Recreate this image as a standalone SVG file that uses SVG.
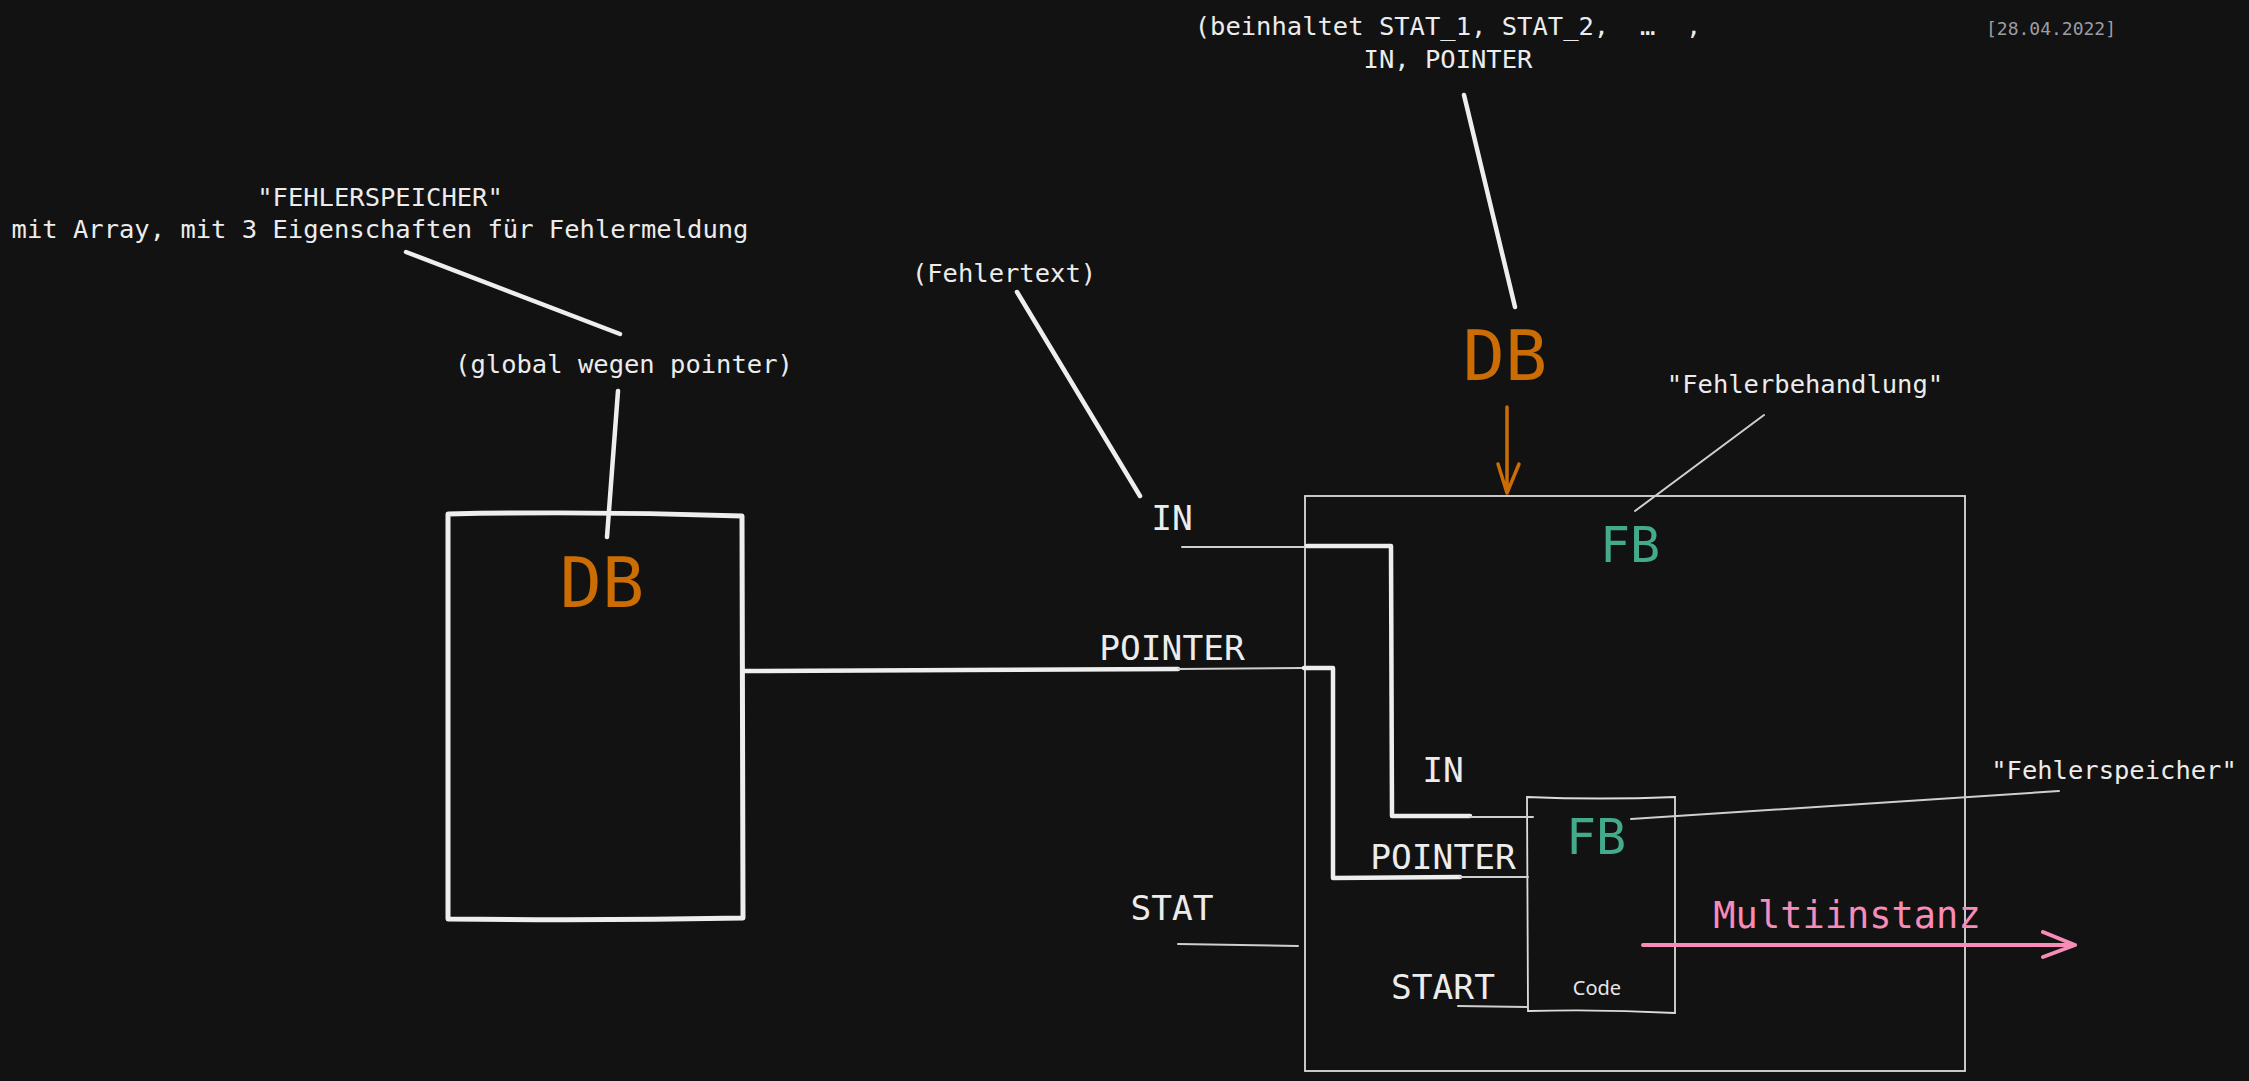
<svg xmlns="http://www.w3.org/2000/svg" width="2249" height="1081" viewBox="0 0 2249 1081">
<defs>
<style>
.bg{fill:#121212}
.t{font-family:"DejaVu Sans Mono","Liberation Mono",monospace;fill:#ececec;white-space:pre}
.s{font-size:25.5px}
.l{font-size:34.5px}
.big{font-size:70px;fill:#cc6d04}
.fb{font-size:50px;fill:#43aa8b}
.thick{fill:none;stroke:#eeeeee;stroke-width:4.5;stroke-linecap:round;stroke-linejoin:round}
.thin{fill:none;stroke:#cfcfcf;stroke-width:2;stroke-linecap:round}
.box{fill:none;stroke:#dcdcdc;stroke-width:1.8}
</style>
</defs>
<rect class="bg" x="0" y="0" width="2249" height="1081"/>

<text class="t" x="2116" y="35" font-size="18" text-anchor="end" style="fill:#9c9ea3">[28.04.2022]</text>

<g id="note-db-instance">
<text class="t s" x="1448" y="35" text-anchor="middle" xml:space="preserve">(beinhaltet STAT_1, STAT_2,  …  ,</text>
<text class="t s" x="1448" y="68" text-anchor="middle">IN, POINTER</text>
</g>

<g id="note-fehlerspeicher">
<text class="t s" x="380" y="206" text-anchor="middle">"FEHLERSPEICHER"</text>
<text class="t s" x="380" y="238" text-anchor="middle">mit Array, mit 3 Eigenschaften für Fehlermeldung</text>
</g>

<g id="note-global">
<text class="t s" x="624" y="373" text-anchor="middle">(global wegen pointer)</text>
</g>

<g id="note-fehlertext">
<text class="t s" x="1004" y="282" text-anchor="middle">(Fehlertext)</text>
</g>

<g id="note-fehlerbehandlung">
<text class="t s" x="1805" y="393" text-anchor="middle">"Fehlerbehandlung"</text>
</g>

<g id="note-fehlerspeicher-inst">
<text class="t s" x="2114" y="779" text-anchor="middle">"Fehlerspeicher"</text>
</g>

<g id="db-global">
<path d="M448,514 Q595,511 742,516 L743,918 Q595,921 448,919 Z" fill="none" stroke="#eeeeee" stroke-width="5" stroke-linejoin="round"/>
<text class="t big" x="602" y="607" text-anchor="middle">DB</text>
</g>

<g id="db-instance">
<text class="t big" x="1505" y="380" text-anchor="middle">DB</text>
</g>

<g id="fb-outer">
<rect class="box" x="1305" y="496" width="660" height="575"/>
<text class="t fb" x="1630" y="562" text-anchor="middle">FB</text>
</g>

<g id="fb-inner">
<path class="box" d="M1527,797 Q1600,800 1675,797 L1675,1013 Q1600,1009 1528,1011 Z"/>
<text class="t fb" x="1596" y="854" text-anchor="middle">FB</text>
<text x="1597" y="995" text-anchor="middle" font-family="'Noto Sans','DejaVu Sans',sans-serif" font-size="20" fill="#e6e6e6">Code</text>
</g>

<g id="pin-labels">
<text class="t l" x="1172" y="530" text-anchor="middle">IN</text>
<text class="t l" x="1172" y="660" text-anchor="middle">POINTER</text>
<text class="t l" x="1172" y="920" text-anchor="middle">STAT</text>
<text class="t l" x="1443" y="782" text-anchor="middle">IN</text>
<text class="t l" x="1443" y="869" text-anchor="middle">POINTER</text>
<text class="t l" x="1443" y="999" text-anchor="middle">START</text>
</g>

<g id="multiinstanz">
<text class="t" x="1847" y="928" text-anchor="middle" font-size="37" style="fill:#f78cb8">Multiinstanz</text>
</g>

<g id="connectors">
<line class="thick" x1="406" y1="252" x2="620" y2="334"/>
<line class="thick" x1="618" y1="391" x2="607" y2="537"/>
<line class="thick" x1="1017" y1="292" x2="1140" y2="496"/>
<line class="thick" x1="1464" y1="95" x2="1515" y2="307"/>
<path d="M1507,407 L1507,493 M1498,464 L1507,493 L1519,464" fill="none" stroke="#cc6d04" stroke-width="3.5" stroke-linecap="round" stroke-linejoin="round"/>
<line class="thin" x1="1764" y1="415" x2="1635" y2="511"/>
<line class="thin" x1="1631" y1="819" x2="2059" y2="791"/>
<line class="thick" x1="744" y1="671" x2="1178" y2="669"/>
<line class="thin" x1="1178" y1="669" x2="1302" y2="668"/>
<path class="thick" d="M1304,668 L1333,668 L1333,878 L1460,877"/>
<line class="thin" x1="1460" y1="877" x2="1528" y2="877"/>
<line class="thin" x1="1182" y1="547" x2="1305" y2="547"/>
<path class="thick" d="M1307,546 L1391,546 L1392,816 L1470,816"/>
<line class="thin" x1="1470" y1="817" x2="1533" y2="817"/>
<line class="thin" x1="1178" y1="944" x2="1298" y2="946"/>
<line class="thin" x1="1458" y1="1006" x2="1527" y2="1007"/>
<path d="M1643,945 L2075,945 M2043,932 L2075,945 L2043,957" fill="none" stroke="#f78cb8" stroke-width="4" stroke-linecap="round" stroke-linejoin="round"/>
</g>
</svg>
